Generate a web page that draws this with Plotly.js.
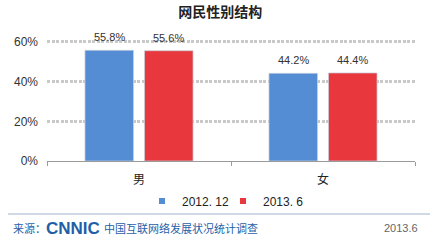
<!DOCTYPE html>
<html>
<head>
<meta charset="utf-8">
<script src="https://cdn.plot.ly/plotly-3.0.1.min.js"></script>
<style>html,body{margin:0;padding:0;background:#fff;}#chart{width:443px;height:243px;}</style>
</head>
<body>
<div id="chart"></div>
<script>
const categories = ["男", "女"];
const series2012 = [55.8, 44.2];
const series2013 = [55.6, 44.4];
const seriesNames = ["2012. 12", "2013. 6"];
const yTickVals = [0, 20, 40, 60];
const yTickText = ["0%", "20%", "40%", "60%"];

const W = 443, H = 243;
const M = {l: 47, r: 28, t: 40, b: 82};
const plotW = W - M.l - M.r, plotH = H - M.t - M.b;
const px = v => (v - M.l) / plotW;
const py = v => (H - M.b - v) / plotH;

const FONT = "Liberation Sans, Arial, Noto Sans CJK SC, sans-serif";
const CJK = "Noto Sans CJK SC, sans-serif";
const BLUE = "#548dd4", RED = "#e8383d";
const BARGAP = 0.353, GROUPGAP = 0.185;

function barTrace(vals, color) {
  return {
    type: "bar", x: categories, y: vals, showlegend: false,
    marker: {color: color, line: {color: "rgba(200,208,222,0.7)", width: 1}},
    hoverinfo: "none"
  };
}
function legendTrace(name, color) {
  return {type: "scatter", mode: "markers", x: [null], y: [null], name: name,
    marker: {symbol: "square", size: 6, color: color}, hoverinfo: "none"};
}

const data = [barTrace(series2012, BLUE), barTrace(series2013, RED),
  legendTrace(seriesNames[0], BLUE), legendTrace(seriesNames[1], RED)];

// value labels above the bars, offset to each bar's slot within the group
const catPx = plotW / categories.length;
const slotPx = catPx * (1 - BARGAP) / 2;
const valueLabels = [];
[series2012, series2013].forEach((vals, si) => {
  vals.forEach((v, ci) => {
    valueLabels.push({text: v.toFixed(1) + "%", x: categories[ci], y: v, xref: "x", yref: "y",
      xshift: (si - 0.5) * slotPx, yshift: 13, yanchor: "middle", xanchor: "center",
      showarrow: false, font: {size: 11, color: "#333", family: FONT}});
  });
});

const layout = {
  width: W, height: H, margin: M, paper_bgcolor: "#fff", plot_bgcolor: "#fff",
  font: {family: FONT, color: "#333", size: 11},
  title: {text: "网民性别结构", x: 0.497, xref: "container", xanchor: "center", y: 0.95, yanchor: "middle",
    font: {size: 14, color: "#222", family: CJK, weight: "bold"}},
  barmode: "group", bargap: BARGAP, bargroupgap: GROUPGAP,
  xaxis: {type: "category", showgrid: false, showline: true, linecolor: "#9a9a9a", linewidth: 1,
    ticks: "outside", tickson: "boundaries", ticklen: 4, tickcolor: "#9a9a9a", ticklabelstandoff: 8,
    tickfont: {size: 12, color: "#222", family: CJK}, zeroline: false, fixedrange: true},
  yaxis: {range: [0, 61], tickvals: yTickVals, ticktext: yTickText, showline: false,
    showgrid: true, gridcolor: "#c9c9c9", gridwidth: 3, griddash: "3px,1.5px", zeroline: false,
    tickfont: {size: 12, color: "#333"}, ticks: "", ticklabelstandoff: 8, fixedrange: true},
  legend: {orientation: "h", x: px(142), xanchor: "left", y: py(201), yanchor: "middle",
    font: {size: 12, color: "#222"}, itemwidth: 30, entrywidth: 36, bgcolor: "rgba(0,0,0,0)", tracegroupgap: 0},
  shapes: [{type: "line", xref: "paper", yref: "paper", x0: px(8), x1: px(430), y0: py(214), y1: py(214),
    line: {color: "#9fb4cc", width: 1}}],
  annotations: valueLabels.concat([
    {text: "来源：", xref: "paper", yref: "paper", x: px(11), y: py(228), xanchor: "left", yanchor: "middle",
      showarrow: false, font: {size: 11, color: "#1f5fa8", family: CJK}},
    {text: "<b>CNNIC</b>", xref: "paper", yref: "paper", x: px(44), y: py(228), xanchor: "left", yanchor: "middle",
      showarrow: false, font: {size: 17, color: "#1f5fa8", family: FONT}},
    {text: "中国互联网络发展状况统计调查", xref: "paper", yref: "paper", x: px(102), y: py(228), xanchor: "left", yanchor: "middle",
      showarrow: false, font: {size: 11, color: "#1f5fa8", family: CJK}},
    {text: "2013.6", xref: "paper", yref: "paper", x: px(420), y: py(228), xanchor: "right", yanchor: "middle",
      showarrow: false, font: {size: 11, color: "#666"}}
  ])
};

Plotly.newPlot("chart", data, layout, {staticPlot: true, displayModeBar: false});
</script>
</body>
</html>
